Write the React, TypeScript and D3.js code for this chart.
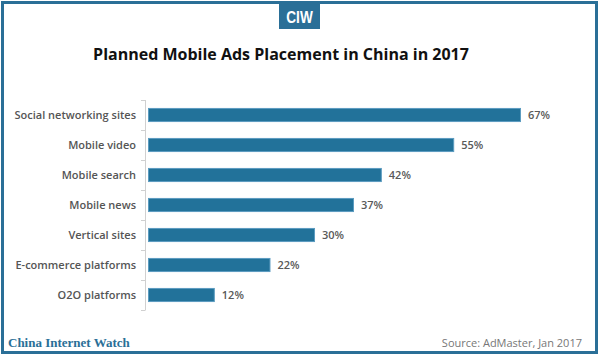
import React, { useEffect, useRef } from "react";
import * as d3 from "d3";

// chart data
const categories = [
  "Social networking sites",
  "Mobile video",
  "Mobile search",
  "Mobile news",
  "Vertical sites",
  "E-commerce platforms",
  "O2O platforms",
];
const values = [67, 55, 42, 37, 30, 22, 12];
const valueLabels = ["67%", "55%", "42%", "37%", "30%", "22%", "12%"];

const title = "Planned Mobile Ads Placement in China in 2017";
const brand = "China Internet Watch";
const source = "Source: AdMaster, Jan 2017";

const App = () => {
  const ref = useRef<SVGSVGElement>(null);

  useEffect(() => {
    const width = 600;
    const height = 359;
    const blue = "#22729a";
    const font = "'Open Sans', 'DejaVu Sans', sans-serif";

    const svg = d3.select(ref.current);
    svg.selectAll("*").remove();
    svg.attr("width", width).attr("height", height);

    svg.append("rect").attr("width", width).attr("height", height).attr("fill", "#fff");

    // outer frame
    svg.append("rect")
      .attr("x", 2.5).attr("y", 2.5)
      .attr("width", 594).attr("height", 350)
      .attr("fill", "none")
      .attr("stroke", "#2a6f97")
      .attr("stroke-width", 3);

    // CIW logo tab
    svg.append("rect")
      .attr("x", 279).attr("y", 2)
      .attr("width", 41).attr("height", 27)
      .attr("fill", "#2a6f97");
    svg.append("text")
      .attr("transform", "translate(299.5,23) scale(0.8,1)")
      .attr("text-anchor", "middle")
      .attr("fill", "#fff")
      .style("font-family", "'Liberation Sans', 'DejaVu Sans', sans-serif")
      .style("font-weight", "bold")
      .style("font-size", "17px")
      .text("CIW");

    // title
    svg.append("text")
      .attr("x", 281).attr("y", 60)
      .attr("text-anchor", "middle")
      .attr("fill", "#111")
      .style("font-family", font)
      .style("font-weight", "bold")
      .style("font-size", "16px")
      .text(title);

    // scales
    var x = d3.scaleLinear().domain([0, 67]).range([148, 521]);
    var y = d3.scaleBand().domain(categories).range([100, 310]).paddingInner(0.53).paddingOuter(0.265);
    var band = d3.scaleBand().domain(categories).range([100, 310]);

    // axis with tick marks between categories
    var g = svg.append("g");
    g.append("line")
      .attr("x1", 145.5).attr("x2", 145.5)
      .attr("y1", 100).attr("y2", 310)
      .attr("stroke", "#d0d0d0");
    var edges = categories.map((c) => band(c) as number).concat([310]);
    g.selectAll("line.tick")
      .data(edges)
      .enter()
      .append("line")
      .attr("class", "tick")
      .attr("x1", 141).attr("x2", 145.5)
      .attr("y1", (d) => Math.round(d) + 0.5)
      .attr("y2", (d) => Math.round(d) + 0.5)
      .attr("stroke", "#d0d0d0");

    var data = categories.map((c, i) => ({ c, v: values[i], label: valueLabels[i] }));

    // bars
    svg.selectAll("rect.bar")
      .data(data)
      .enter()
      .append("rect")
      .attr("class", "bar")
      .attr("x", x(0) + 0.5)
      .attr("y", (d) => (y(d.c) as number) + 0.5)
      .attr("width", (d) => x(d.v) - x(0) - 1)
      .attr("height", y.bandwidth() - 1)
      .attr("fill", blue)
      .attr("stroke", "#5c9cc0")
      .attr("stroke-width", 1);

    // category labels
    svg.selectAll("text.cat")
      .data(data)
      .enter()
      .append("text")
      .attr("class", "cat")
      .attr("x", 136)
      .attr("y", (d) => (y(d.c) as number) + y.bandwidth() / 2)
      .attr("dy", "0.35em")
      .attr("text-anchor", "end")
      .attr("fill", "#555")
      .style("font-family", font)
      .style("font-weight", 600)
      .style("font-size", "11px")
      .text((d) => d.c);

    // value labels
    svg.selectAll("text.val")
      .data(data)
      .enter()
      .append("text")
      .attr("class", "val")
      .attr("x", (d) => x(d.v) + 7)
      .attr("y", (d) => (y(d.c) as number) + y.bandwidth() / 2)
      .attr("dy", "0.35em")
      .attr("fill", "#595959")
      .style("font-family", font)
      .style("font-weight", 600)
      .style("font-size", "11px")
      .text((d) => d.label);

    // footer
    svg.append("text")
      .attr("x", 8).attr("y", 347)
      .attr("fill", "#2a6f97")
      .style("font-family", "'Liberation Serif', 'DejaVu Serif', serif")
      .style("font-weight", "bold")
      .style("font-size", "13px")
      .text(brand);
    svg.append("text")
      .attr("x", 582).attr("y", 347)
      .attr("text-anchor", "end")
      .attr("fill", "#777")
      .style("font-family", font)
      .style("font-size", "11px")
      .text(source);
  }, []);

  return (
    <svg ref={ref} style={{ position: "absolute", left: 0, top: 0, display: "block" }}></svg>
  );
};

export default App;
